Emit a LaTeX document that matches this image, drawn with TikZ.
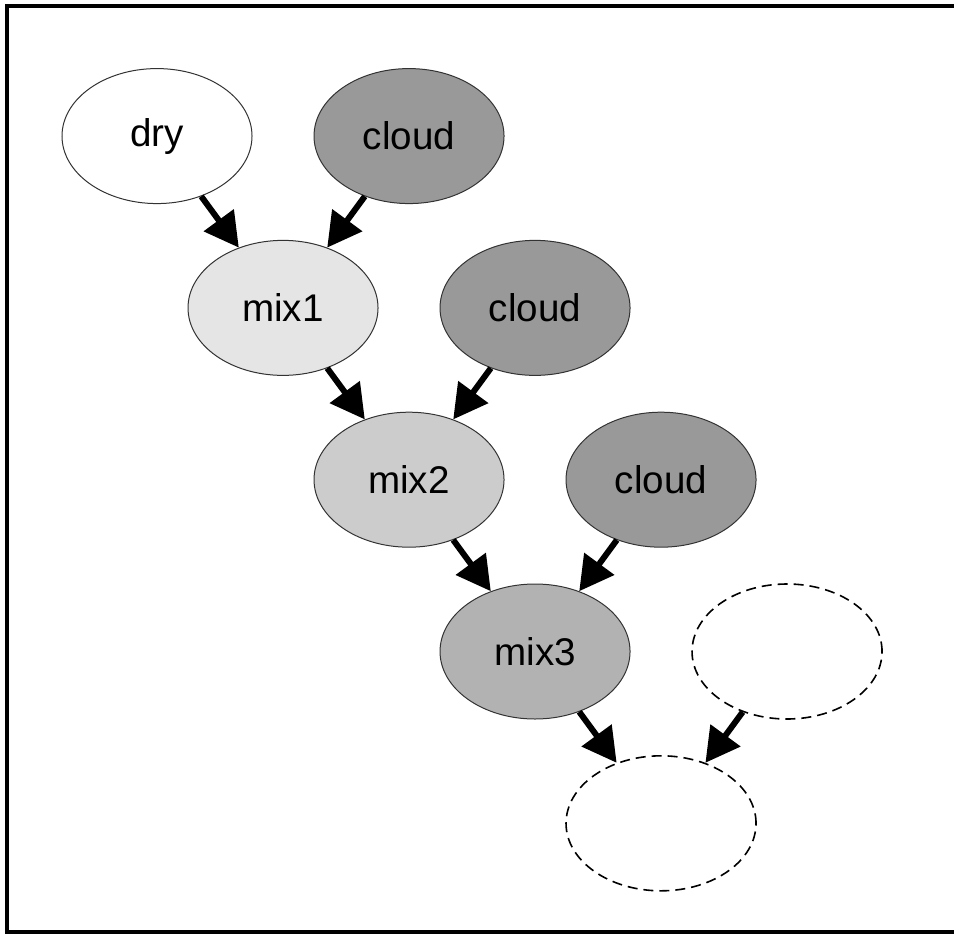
\documentclass[tikz,border=0pt]{standalone}
\usepackage{fontspec}
\setmainfont{Liberation Sans}
\usetikzlibrary{arrows.meta, shapes.geometric}

\begin{document}
\begin{tikzpicture}[x=63pt, y=-85.9pt]
	\tikzstyle{blob}  = [ellipse, minimum width=95pt, minimum height=67.5pt, inner sep=0pt, draw=black!80, line width=0.5pt, font=\fontsize{19.3}{23}\selectfont]
	\tikzstyle{ghost} = [blob, draw=black, dash pattern=on 5pt off 3pt, line width=0.8pt]
	\tikzstyle{feed}  = [-{Triangle[length=17pt, width=18pt]}, line width=3pt]

	\useasboundingbox (-1.246,-0.792) rectangle (6.325,4.652);
	\draw[line width=2pt] (6.325,-0.757) -- (-1.190,-0.757) -- (-1.190,4.635) -- (6.325,4.635);

	\foreach \name/\x/\y/\shade/\word in {dry/0/0/white/dry, c1/2/0/black!40/cloud, m1/1/1/black!10/mix1, c2/3/1/black!40/cloud, m2/2/2/black!20/mix2, c3/4/2/black!40/cloud, m3/3/3/black!30/mix3}
		\node[blob, fill=\shade] (\name) at (\x, \y) {\word};

	\foreach \name/\x/\y in {e1/5/3, e2/4/4}
		\node[ghost] (\name) at (\x, \y) {};

	\foreach \from/\to in {dry/m1, c1/m1, m1/m2, c2/m2, m2/m3, c3/m3, m3/e2, e1/e2}
		\draw[feed] (\from) -- (\to);

\end{tikzpicture}
\end{document}
